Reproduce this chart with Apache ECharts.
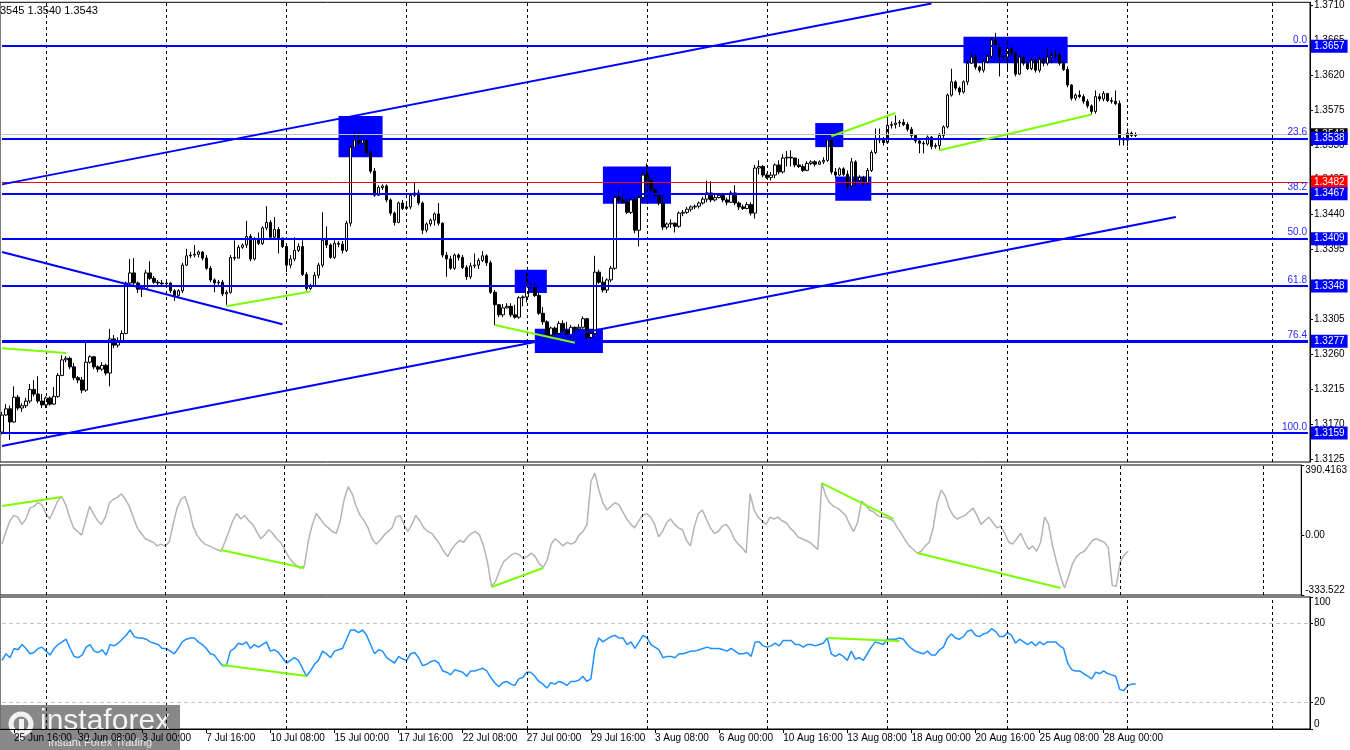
<!DOCTYPE html>
<html>
<head>
<meta charset="utf-8">
<script src="https://cdn.jsdelivr.net/npm/echarts@6/dist/echarts.min.js"></script>
<style>
html,body{margin:0;padding:0;background:#fff}
#chart{width:1350px;height:750px}
</style>
</head>
<body>
<div id="chart"></div>
<script>
// H4 bars. open of each bar = previous close
var firstOpen = 1.3160;
var closes = [
1.3182,1.3190,1.3173,1.3205,1.3191,1.3194,1.3200,1.3215,1.3209,1.3200,
1.3195,1.3204,1.3196,1.3206,1.3233,1.3253,1.3255,1.3244,1.3230,1.3227,
1.3214,1.3250,1.3257,1.3244,1.3241,1.3246,1.3236,1.3280,1.3272,1.3278,
1.3287,1.3352,1.3365,1.3352,1.3344,1.3345,1.3365,1.3358,1.3353,1.3352,
1.3351,1.3352,1.3342,1.3336,1.3342,1.3375,1.3387,1.3388,1.3389,1.3392,
1.3384,1.3371,1.3356,1.3352,1.3353,1.3338,1.3340,1.3385,1.3384,1.3398,
1.3401,1.3412,1.3383,1.3408,1.3403,1.3423,1.3430,1.3411,1.3421,1.3410,
1.3399,1.3375,1.3383,1.3394,1.3399,1.3363,1.3345,1.3348,1.3362,1.3375,
1.3407,1.3401,1.3385,1.3403,1.3402,1.3394,1.3429,1.3527,1.3536,1.3532,
1.3536,1.3520,1.3496,1.3465,1.3475,1.3477,1.3459,1.3442,1.3430,1.3455,
1.3448,1.3450,1.3465,1.3468,1.3455,1.3420,1.3428,1.3433,1.3441,1.3429,
1.3388,1.3383,1.3371,1.3388,1.3385,1.3372,1.3360,1.3374,1.3375,1.3381,
1.3387,1.3378,1.3340,1.3324,1.3311,1.3320,1.3322,1.3311,1.3308,1.3333,
1.3334,1.3349,1.3348,1.3336,1.3313,1.3302,1.3285,1.3294,1.3287,1.3300,
1.3291,1.3284,1.3295,1.3293,1.3295,1.3306,1.3282,1.3287,1.3366,1.3353,
1.3343,1.3356,1.3371,1.3462,1.3459,1.3456,1.3443,1.3459,1.3420,1.3462,
1.3491,1.3484,1.3472,1.3465,1.3455,1.3424,1.3428,1.3429,1.3425,1.3442,
1.3443,1.3447,1.3450,1.3451,1.3455,1.3460,1.3468,1.3459,1.3462,1.3465,
1.3459,1.3456,1.3468,1.3455,1.3450,1.3448,1.3453,1.3442,1.3500,1.3502,
1.3491,1.3488,1.3491,1.3504,1.3495,1.3513,1.3514,1.3513,1.3504,1.3502,
1.3497,1.3506,1.3508,1.3505,1.3508,1.3510,1.3536,1.3495,1.3491,1.3499,
1.3492,1.3477,1.3508,1.3484,1.3488,1.3481,1.3497,1.3520,1.3538,1.3536,
1.3533,1.3555,1.3556,1.3558,1.3559,1.3556,1.3550,1.3542,1.3535,1.3532,
1.3531,1.3540,1.3528,1.3529,1.3542,1.3553,1.3594,1.3611,1.3603,1.3598,
1.3611,1.3635,1.3643,1.3630,1.3626,1.3637,1.3644,1.3665,1.3658,1.3644,
1.3643,1.3654,1.3648,1.3621,1.3643,1.3635,1.3628,1.3639,1.3626,1.3640,
1.3635,1.3643,1.3645,1.3646,1.3635,1.3627,1.3607,1.3590,1.3594,1.3592,
1.3586,1.3580,1.3573,1.3592,1.3589,1.3596,1.3587,1.3586,1.3583,1.3537,
1.3536,1.3545,1.3542,1.3543];
var highs = [
1.3186,1.3196,1.3194,1.3219,1.3208,1.3197,1.3204,1.3222,1.3227,1.3232,
1.3209,1.3206,1.3206,1.3218,1.3236,1.3259,1.3258,1.3257,1.3249,1.3232,
1.3231,1.3275,1.3259,1.3258,1.3246,1.3250,1.3248,1.3293,1.3285,1.3282,
1.3291,1.3354,1.3383,1.3384,1.3354,1.3349,1.3369,1.3380,1.3361,1.3356,
1.3356,1.3354,1.3353,1.3344,1.3344,1.3378,1.3396,1.3392,1.3401,1.3394,
1.3393,1.3388,1.3374,1.3358,1.3356,1.3356,1.3343,1.3388,1.3407,1.3401,
1.3403,1.3432,1.3415,1.3411,1.3417,1.3425,1.3451,1.3433,1.3437,1.3424,
1.3410,1.3401,1.3388,1.3411,1.3403,1.3407,1.3366,1.3351,1.3366,1.3378,
1.3443,1.3425,1.3403,1.3407,1.3406,1.3406,1.3432,1.3529,1.3546,1.3545,
1.3540,1.3538,1.3523,1.3500,1.3478,1.3479,1.3479,1.3461,1.3444,1.3457,
1.3459,1.3454,1.3468,1.3482,1.3472,1.3457,1.3430,1.3435,1.3443,1.3455,
1.3430,1.3392,1.3387,1.3390,1.3390,1.3388,1.3375,1.3378,1.3390,1.3384,
1.3393,1.3389,1.3381,1.3343,1.3325,1.3325,1.3326,1.3326,1.3324,1.3335,
1.3336,1.3365,1.3352,1.3352,1.3339,1.3321,1.3304,1.3296,1.3296,1.3303,
1.3304,1.3302,1.3298,1.3296,1.3299,1.3309,1.3307,1.3291,1.3387,1.3369,
1.3360,1.3358,1.3374,1.3465,1.3471,1.3465,1.3461,1.3461,1.3461,1.3468,
1.3495,1.3506,1.3487,1.3474,1.3468,1.3466,1.3430,1.3434,1.3430,1.3444,
1.3446,1.3450,1.3452,1.3453,1.3457,1.3463,1.3484,1.3483,1.3466,1.3468,
1.3468,1.3462,1.3471,1.3478,1.3457,1.3453,1.3456,1.3456,1.3504,1.3510,
1.3504,1.3493,1.3495,1.3506,1.3510,1.3518,1.3522,1.3523,1.3513,1.3512,
1.3505,1.3509,1.3510,1.3510,1.3510,1.3514,1.3538,1.3545,1.3500,1.3501,
1.3501,1.3497,1.3513,1.3510,1.3491,1.3490,1.3500,1.3523,1.3551,1.3551,
1.3540,1.3568,1.3560,1.3568,1.3562,1.3563,1.3559,1.3553,1.3544,1.3537,
1.3535,1.3542,1.3541,1.3532,1.3545,1.3555,1.3596,1.3628,1.3613,1.3605,
1.3613,1.3638,1.3649,1.3647,1.3632,1.3640,1.3647,1.3667,1.3674,1.3660,
1.3645,1.3665,1.3657,1.3649,1.3645,1.3644,1.3636,1.3641,1.3641,1.3644,
1.3643,1.3654,1.3649,1.3652,1.3648,1.3637,1.3631,1.3608,1.3596,1.3600,
1.3595,1.3589,1.3582,1.3600,1.3596,1.3599,1.3596,1.3591,1.3600,1.3587,
1.3540,1.3551,1.3547,1.3546];
var lows = [
1.3157,1.3181,1.3150,1.3172,1.3188,1.3186,1.3191,1.3197,1.3206,1.3197,
1.3191,1.3191,1.3194,1.3195,1.3204,1.3232,1.3250,1.3241,1.3227,1.3223,
1.3210,1.3212,1.3248,1.3241,1.3237,1.3239,1.3233,1.3219,1.3268,1.3269,
1.3276,1.3286,1.3349,1.3349,1.3339,1.3334,1.3343,1.3356,1.3351,1.3349,
1.3348,1.3347,1.3339,1.3329,1.3334,1.3339,1.3374,1.3384,1.3385,1.3385,
1.3381,1.3369,1.3353,1.3340,1.3349,1.3335,1.3324,1.3338,1.3381,1.3384,
1.3396,1.3397,1.3380,1.3381,1.3401,1.3401,1.3420,1.3408,1.3410,1.3390,
1.3397,1.3366,1.3371,1.3380,1.3392,1.3361,1.3342,1.3343,1.3347,1.3358,
1.3372,1.3397,1.3383,1.3383,1.3398,1.3390,1.3392,1.3425,1.3526,1.3529,
1.3531,1.3518,1.3493,1.3463,1.3464,1.3472,1.3456,1.3439,1.3426,1.3429,
1.3446,1.3447,1.3447,1.3463,1.3452,1.3415,1.3417,1.3425,1.3426,1.3426,
1.3385,1.3360,1.3369,1.3369,1.3381,1.3370,1.3356,1.3357,1.3371,1.3370,
1.3379,1.3374,1.3338,1.3298,1.3308,1.3308,1.3319,1.3308,1.3306,1.3306,
1.3322,1.3327,1.3345,1.3334,1.3311,1.3298,1.3281,1.3282,1.3285,1.3285,
1.3289,1.3281,1.3281,1.3287,1.3290,1.3293,1.3280,1.3280,1.3285,1.3351,
1.3340,1.3339,1.3353,1.3369,1.3456,1.3454,1.3441,1.3441,1.3416,1.3399,
1.3460,1.3481,1.3469,1.3462,1.3452,1.3420,1.3421,1.3423,1.3417,1.3423,
1.3438,1.3441,1.3444,1.3447,1.3448,1.3453,1.3456,1.3456,1.3457,1.3461,
1.3456,1.3452,1.3455,1.3452,1.3446,1.3446,1.3447,1.3439,1.3435,1.3492,
1.3488,1.3486,1.3484,1.3487,1.3492,1.3493,1.3502,1.3502,1.3501,1.3500,
1.3495,1.3496,1.3504,1.3502,1.3504,1.3505,1.3508,1.3492,1.3487,1.3490,
1.3490,1.3472,1.3474,1.3477,1.3481,1.3478,1.3479,1.3495,1.3518,1.3532,
1.3529,1.3532,1.3551,1.3551,1.3553,1.3554,1.3547,1.3538,1.3532,1.3519,
1.3519,1.3529,1.3524,1.3525,1.3523,1.3538,1.3551,1.3592,1.3600,1.3594,
1.3596,1.3607,1.3634,1.3627,1.3623,1.3623,1.3635,1.3641,1.3656,1.3618,
1.3639,1.3625,1.3645,1.3618,1.3620,1.3632,1.3626,1.3626,1.3623,1.3623,
1.3631,1.3632,1.3635,1.3641,1.3632,1.3625,1.3604,1.3587,1.3587,1.3590,
1.3583,1.3577,1.3569,1.3570,1.3586,1.3586,1.3585,1.3583,1.3581,1.3529,
1.3529,1.3528,1.3540,1.3540];

var cciValues = [
-50,20,80,110,100,60,90,150,160,180,
170,120,90,140,190,215,170,100,40,20,
0,80,160,120,80,60,100,180,200,210,
230,200,160,100,40,10,-20,-30,-40,-60,
-50,-60,-40,60,150,200,215,150,50,0,
-30,-50,-60,-70,-80,-90,-40,20,80,120,
90,110,80,60,20,-20,0,30,10,-20,
-40,-80,-120,-150,-170,-185,-170,-30,60,120,
90,60,40,20,10,80,200,270,230,160,
110,80,40,-20,-50,-30,0,20,40,100,
110,60,20,60,110,80,40,20,10,-20,
-50,-90,-120,-80,-50,-30,-40,-10,10,20,
0,-60,-150,-285,-260,-200,-150,-130,-110,-100,
-110,-130,-120,-100,-120,-160,-180,-140,-50,-20,
-40,-60,-40,-50,-40,0,20,60,300,345,
250,180,140,160,180,170,130,90,60,40,
80,110,120,100,60,-10,20,70,90,60,
40,30,-30,-60,50,120,140,90,40,10,
20,50,60,30,-20,-50,-70,-100,230,140,
100,80,60,100,90,100,80,70,40,20,
-10,-20,-30,-40,-60,-80,290,220,180,160,
150,130,110,60,20,70,190,170,140,130,
110,100,100,90,80,40,10,-30,-60,-80,
-100,-90,-60,-40,40,180,250,220,150,110,
90,100,110,130,150,110,60,80,100,70,
40,50,10,-40,-50,-20,10,-40,-80,-60,
-90,-40,100,60,-60,-150,-230,-295,-230,-160,
-120,-100,-90,-60,-30,-20,-30,-40,-70,-280,
-285,-150,-110,-90];

var rsiValues = [
52,57,54,61,60,64,61,57,58,61,
62,59,56,61,64,66,68,61,55,54,
56,62,64,59,58,60,56,64,63,65,
68,71,75,70,69,69,68,66,65,64,
61,61,59,57,61,66,68,69,69,66,
64,61,57,56,52,48,48,59,61,65,
64,66,61,64,62,64,66,59,60,58,
54,50,52,54,52,46,40,44,49,52,
59,57,54,59,60,61,68,75,75,73,
75,71,64,57,60,59,54,52,50,55,
53,52,57,58,54,48,49,51,52,50,
44,43,41,45,44,43,40,44,44,45,
46,44,39,35,32,35,36,34,33,38,
39,43,43,40,36,34,31,35,34,36,
35,33,36,36,37,40,36,38,60,69,
66,68,70,71,69,69,64,66,61,66,
71,69,64,62,60,54,55,55,54,57,
57,58,59,59,60,61,62,61,61,61,
60,59,61,59,57,57,58,55,66,66,
63,62,63,65,63,67,67,67,64,64,
62,64,64,63,64,65,69,57,55,57,
55,52,59,53,54,52,57,62,66,65,
64,68,68,68,69,68,64,61,59,58,
57,59,56,56,60,62,69,72,69,68,
70,74,75,71,70,72,73,76,74,70,
70,73,71,65,68,66,64,66,63,66,
64,66,66,66,63,61,50,45,44,44,
42,40,38,43,42,44,42,41,40,30,
29,33,34,34];

var slotCount = 327;
var timeLabels = ['25 Jun 16:00','30 Jun 08:00','3 Jul 00:00','7 Jul 16:00','10 Jul 08:00',
  '15 Jul 00:00','17 Jul 16:00','22 Jul 08:00','27 Jul 00:00','29 Jul 16:00','3 Aug 08:00',
  '6 Aug 00:00','10 Aug 16:00','13 Aug 08:00','18 Aug 00:00','20 Aug 16:00','25 Aug 08:00','28 Aug 00:00'];
var firstLabelBar = 3, labelStep = 16;
var gridBars = [11,41,71,101,131,161,191,221,251,281,317];

var priceTicks = [1.3125,1.3170,1.3215,1.3260,1.3305,1.3350,1.3395,1.3440,1.3485,1.3530,1.3575,1.3620,1.3665,1.3710];
var fibLevels = [[1.3657,'0.0'],[1.3538,'23.6'],[1.3467,'38.2'],[1.3409,'50.0'],[1.3348,'61.8'],[1.3277,'76.4'],[1.3159,'100.0']];
var askLine = 1.3482, bidLine = 1.3543;
// [bar1, price1, bar2, price2]
var channelLines = [[0,1.3479,232,1.3712],[0,1.3142,293,1.3437],[0,1.3392,70,1.3299]];
var priceDivergence = [[0,1.3268,16,1.3262],[56,1.3322,77,1.3341],[123,1.3298,143,1.3275],[207,1.3541,223,1.3571],[234,1.3523,272,1.3569]];
var zones = [[84,1.3567,95,1.3514],[128,1.3369,136,1.3339],[133,1.3293,150,1.3262],[150,1.3502,167,1.3454],
  [203,1.3558,210,1.3527],[208,1.3489,217,1.3458],[240,1.3669,266,1.3635]];
var cciTicks = [-333.522, 0, 390.4163];
var cciDivergence = [[0,162,15,212],[55,-83,76,-183],[123,-289,136,-183],[206,290,224,90],[230,-100,266,-295]];
var rsiTicks = [0,20,80,100];
var rsiLevels = [80,20];
var rsiDivergence = [[55,48.5,76,40.2],[206,68.9,224,66.7]];

var bars = [];
for (var i = 0; i < slotCount; i++) bars.push(String(i));
var candles = closes.map(function (c, i) {
    var o = i === 0 ? firstOpen : closes[i - 1];
    return [o, c, lows[i], highs[i]];
});

var FONT = 'Liberation Sans';
var BLUE = '#0000ff', GREEN = '#7cfc00';
var lastBar = slotCount - 1;

function segs(list, color, width) {
    return list.map(function (s) {
        return [{coord: [s[0], s[1]], lineStyle: {color: color, width: width, type: 'solid'}},
                {coord: [s[2], s[3]]}];
    });
}
// full-width horizontal line as a pair of points
function hline(v, lineStyle, label) {
    var a = {coord: [0, v], lineStyle: lineStyle};
    if (label) a.label = label;
    return [a, {coord: [lastBar, v]}];
}
function priceBox(v, bg) {
    return {show: true, position: 'end', distance: 3, formatter: v.toFixed(4), backgroundColor: bg,
        color: '#fff', padding: [2, 3, 1, 3], fontSize: 10, fontFamily: FONT};
}
var vLines = gridBars.map(function (b) { return {xAxis: b}; });
var vLineStyle = {color: '#000', width: 1, type: [3, 3]};

var levelLines = [];
levelLines.push(hline(bidLine, {color: '#c0c0c0', width: 1, type: 'solid'}, priceBox(bidLine, '#000')));
levelLines.push(hline(askLine, {color: '#ff0000', width: 1, type: 'solid'}, priceBox(askLine, '#ff0000')));
fibLevels.forEach(function (f) {
    levelLines.push(hline(f[0], {color: BLUE, width: f[1] === '76.4' ? 3 : 2, type: 'solid'}, priceBox(f[0], BLUE)));
    levelLines.push(hline(f[0], {color: 'rgba(0,0,0,0)', width: 1, type: 'solid'},
        {show: true, position: 'insideEndTop', distance: 1, formatter: f[1], color: '#2a2aff', fontSize: 10, fontFamily: FONT}));
});

function labelBar(idx) {
    return idx >= firstLabelBar && (idx - firstLabelBar) % labelStep === 0 && (idx - firstLabelBar) / labelStep < timeLabels.length;
}
function xAxisFor(gi, showLabels) {
    return {
        type: 'category', gridIndex: gi, data: bars, boundaryGap: true,
        axisLine: {show: showLabels, lineStyle: {color: '#000'}},
        axisTick: {show: showLabels, alignWithLabel: true, length: 4, lineStyle: {color: '#000'}, interval: labelBar},
        axisLabel: {show: showLabels, align: 'left', margin: 4, fontSize: 10, fontFamily: FONT, color: '#000',
            interval: labelBar,
            formatter: function (v, idx) { return timeLabels[(idx - firstLabelBar) / labelStep] || ''; }},
        splitLine: {show: false}
    };
}
function yAxisBase(gi, min, max, ticks, fmt) {
    return {
        type: 'value', gridIndex: gi, position: 'right', min: min, max: max,
        axisLine: {show: true, lineStyle: {color: '#000'}},
        axisTick: {show: true, length: 3, customValues: ticks, lineStyle: {color: '#000'}},
        axisLabel: {show: true, customValues: ticks, formatter: fmt, margin: 4, fontSize: 10, fontFamily: FONT, color: '#000',
            showMinLabel: true, showMaxLabel: true},
        splitLine: {show: false}
    };
}

var yMain = yAxisBase(0, 1.31215, 1.37135, priceTicks, function (v) { return v.toFixed(4); });
var yCci = yAxisBase(1, -333.522, 390.4163, cciTicks, function (v) { return v === 0 ? '0.00' : String(v); });
yCci.axisLabel.verticalAlignMinLabel = 'bottom';
yCci.axisLabel.verticalAlignMaxLabel = 'top';
var yRsi = yAxisBase(2, 0, 100, rsiTicks, function (v) { return String(v); });
yRsi.axisLabel.verticalAlignMinLabel = 'bottom';
yRsi.axisLabel.verticalAlignMaxLabel = 'top';

var option = {
    animation: false,
    backgroundColor: '#fff',
    textStyle: {fontFamily: FONT},
    grid: [
        {left: 0, right: 40, top: 2, height: 460, show: true, borderColor: '#000', borderWidth: 1},
        {left: 0, right: 40, top: 465, height: 130, show: true, borderColor: '#000', borderWidth: 1},
        {left: 0, right: 40, top: 597, height: 132, show: true, borderColor: '#000', borderWidth: 1}
    ],
    xAxis: [xAxisFor(0, false), xAxisFor(1, false), xAxisFor(2, true)],
    yAxis: [yMain, yCci, yRsi],
    graphic: [
        {type: 'text', left: 0, top: 5, z: 50, style: {text: '3545 1.3540 1.3543', fill: '#000', font: '11px ' + FONT}},
        {type: 'group', left: 0, top: 705, z: 100, children: [
            {type: 'rect', shape: {x: 0, y: 0, width: 180, height: 45}, style: {fill: 'rgba(110,110,110,0.82)'}},
            {type: 'circle', shape: {cx: 21, cy: 19, r: 10}, style: {fill: 'none', stroke: '#f2f2f2', lineWidth: 5}},
            {type: 'rect', shape: {x: 19, y: 14, width: 5, height: 22}, style: {fill: '#f2f2f2'}},
            {type: 'text', x: 40, y: 2, style: {text: 'instaforex', fill: '#f4f4f4', font: '30px ' + FONT}},
            {type: 'text', x: 48, y: 32, style: {text: 'Instant Forex Trading', fill: '#e8e8e8', font: '11px ' + FONT}}
        ]}
    ],
    series: [
        {
            name: 'zones', type: 'line', xAxisIndex: 0, yAxisIndex: 0, data: [], z: 1, silent: true,
            markArea: {silent: true, itemStyle: {color: BLUE, opacity: 1},
                data: zones.map(function (r) { return [{coord: [r[0], r[1]]}, {coord: [r[2], r[3]]}]; })},
            markLine: {silent: true, symbol: ['none', 'none'], label: {show: false}, lineStyle: vLineStyle, data: vLines}
        },
        {
            name: 'GBPUSD', type: 'candlestick', xAxisIndex: 0, yAxisIndex: 0, data: candles, z: 2,
            barWidth: 3,
            itemStyle: {color: '#ffffff', color0: '#000000', borderColor: '#000000', borderColor0: '#000000', borderWidth: 1}
        },
        {
            name: 'objects', type: 'line', xAxisIndex: 0, yAxisIndex: 0, data: [], z: 3, silent: true,
            markLine: {silent: true, symbol: ['none', 'none'], label: {show: false},
                data: levelLines.concat(segs(channelLines, BLUE, 2), segs(priceDivergence, GREEN, 2))}
        },
        {
            name: 'cciGrid', type: 'line', xAxisIndex: 1, yAxisIndex: 1, data: [], z: 1, silent: true,
            markLine: {silent: true, symbol: ['none', 'none'], label: {show: false}, lineStyle: vLineStyle, data: vLines}
        },
        {
            name: 'CCI', type: 'line', xAxisIndex: 1, yAxisIndex: 1, data: cciValues, z: 2,
            showSymbol: false, lineStyle: {color: '#b4b4b4', width: 1.5},
            markLine: {silent: true, symbol: ['none', 'none'], label: {show: false}, data: segs(cciDivergence, GREEN, 2)}
        },
        {
            name: 'rsiGrid', type: 'line', xAxisIndex: 2, yAxisIndex: 2, data: [], z: 1, silent: true,
            markLine: {silent: true, symbol: ['none', 'none'], label: {show: false},
                data: vLines.map(function (v) { return {xAxis: v.xAxis, lineStyle: vLineStyle}; }).concat(
                    rsiLevels.map(function (l) { return hline(l, {color: '#c4c4c4', width: 1, type: [4, 3]}); }))}
        },
        {
            name: 'RSI', type: 'line', xAxisIndex: 2, yAxisIndex: 2, data: rsiValues, z: 2,
            showSymbol: false, lineStyle: {color: '#1e90ff', width: 1.5},
            markLine: {silent: true, symbol: ['none', 'none'], label: {show: false}, data: segs(rsiDivergence, GREEN, 2)}
        }
    ]
};

var chart = echarts.init(document.getElementById('chart'));
chart.setOption(option);
</script>
</body>
</html>
